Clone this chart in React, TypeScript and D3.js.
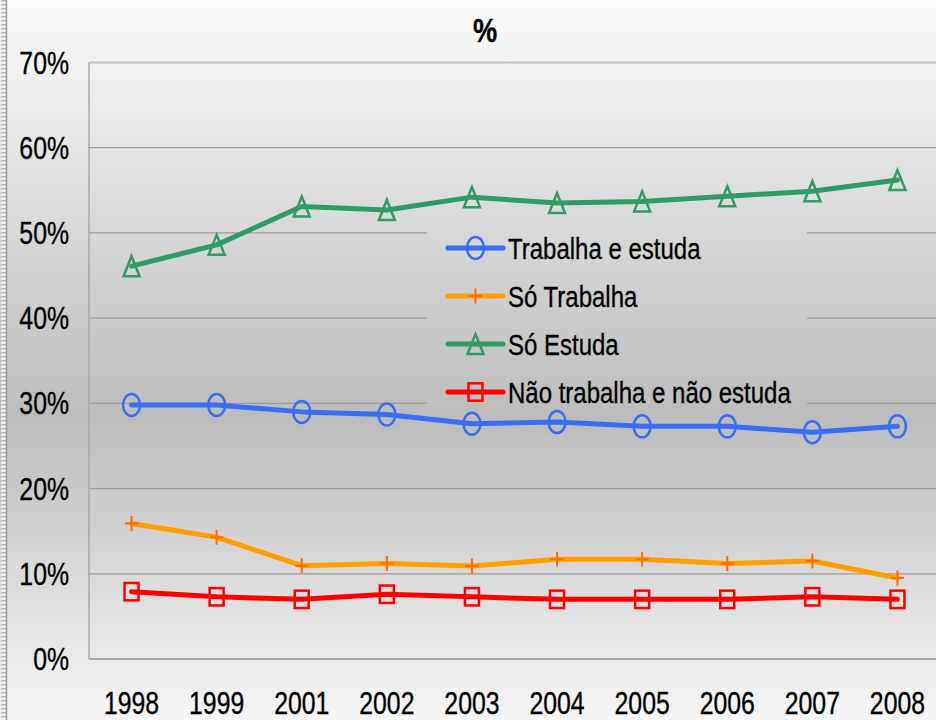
import React from "react";
import * as d3 from "d3";

const years = ["1998", "1999", "2001", "2002", "2003", "2004", "2005", "2006", "2007", "2008"];
const trabalhaEstuda = [29.8, 29.8, 29.0, 28.7, 27.6, 27.8, 27.3, 27.3, 26.6, 27.3];
const soTrabalha = [15.9, 14.3, 10.95, 11.2, 10.9, 11.7, 11.7, 11.2, 11.5, 9.5];
const soEstuda = [46.1, 48.6, 53.1, 52.7, 54.2, 53.5, 53.7, 54.3, 54.9, 56.2];
const naoTrabalha = [7.9, 7.3, 7.0, 7.6, 7.3, 7.0, 7.0, 7.0, 7.3, 7.0];
const yTicks = [0, 10, 20, 30, 40, 50, 60, 70];

const series = [
  { name: "Trabalha e estuda", values: trabalhaEstuda, color: "#3a6cf6", mark: "#3a6cf6", shape: "circle" },
  { name: "Só Trabalha", values: soTrabalha, color: "#ff9c00", mark: "#ff6a00", shape: "plus" },
  { name: "Só Estuda", values: soEstuda, color: "#2f9c63", mark: "#2f9c63", shape: "triangle" },
  { name: "Não trabalha e não estuda", values: naoTrabalha, color: "#ff0000", mark: "#ff0000", shape: "square" },
];

const W = 936;
const H = 720;
const M = { top: 62.5, left: 89, bottom: 659 };
const SX = 0.8; // text looks squeezed horizontally
const FONT = "'Liberation Sans', Arial, sans-serif";

const Marker = ({ shape, x, y, color }: { shape: string; x: number; y: number; color: string }) => {
  if (shape === "circle")
    return <ellipse cx={x} cy={y} rx={8.5} ry={11} fill="none" stroke={color} strokeWidth={2.5} />;
  if (shape === "square")
    return <rect x={x - 7} y={y - 8.7} width={14} height={17.4} fill="none" stroke={color} strokeWidth={2.5} />;
  if (shape === "triangle")
    return (
      <path
        d={`M${x},${y - 10}L${x + 8},${y + 10}L${x - 8},${y + 10}Z`}
        fill="none"
        stroke={color}
        strokeWidth={2.5}
        strokeLinejoin="miter"
      />
    );
  return (
    <path d={`M${x - 6.5},${y}H${x + 6.5}M${x},${y - 7.5}V${y + 7.5}`} stroke={color} strokeWidth={2} />
  );
};

const App = () => {
  const x = d3.scaleBand().domain(years).range([M.left, M.left + 10 * 85.1]);
  const y = d3.scaleLinear().domain([0, 70]).range([M.bottom, M.top]);
  const cx = (yr: string) => (x(yr) as number) + x.bandwidth() / 2;

  const line = d3
    .line<number>()
    .x((_, i) => cx(years[i]))
    .y((d) => y(d));

  const legendX = 448;
  const legendY = 248;
  const legendStep = 48;

  return (
    <svg
      width={W}
      height={H}
      style={{ position: "absolute", left: 0, top: 0 }}
      fontFamily={FONT}
    >
      <defs>
        <linearGradient id="bg" gradientUnits="userSpaceOnUse" x1="0" y1="0" x2="0" y2={H}>
          <stop offset="0" stopColor="#fbfbfb" />
          <stop offset="0.58" stopColor="#bcbcbc" />
          <stop offset="1" stopColor="#f6f6f6" />
        </linearGradient>
        <pattern id="hatch" width="6" height="4" patternUnits="userSpaceOnUse">
          <rect width="6" height="4" fill="#f4f4f4" />
          <rect y="0" width="6" height="1.5" fill="#b8b8b8" />
        </pattern>
      </defs>
      <rect width={W} height={H} fill="url(#bg)" />
      <rect x={1} y={0} width={5} height={H} fill="url(#hatch)" />
      <line x1={6.5} x2={6.5} y1={0} y2={H} stroke="#9a9a9a" strokeWidth={1.5} />

      {/* gridlines */}
      {yTicks.map((t) => (
        <line
          key={t}
          x1={M.left}
          x2={W}
          y1={y(t)}
          y2={y(t)}
          stroke={t === 70 ? "#c2c2c2" : t === 0 ? "#a8a8a8" : "#9c9c9c"}
          strokeWidth={t === 70 || t === 0 ? 2 : 1.2}
        />
      ))}
      <line x1={M.left} x2={M.left} y1={M.top} y2={M.bottom} stroke="#a8a8a8" strokeWidth={1.5} />

      <g fill="#000" stroke="#000" strokeWidth={0.35}>
        {/* y tick labels */}
        {yTicks.map((t) => (
          <text
            key={t}
            transform={`translate(69,${y(t) + 11}) scale(${SX},1)`}
            textAnchor="end"
            fontSize={31}
          >
            {t}%
          </text>
        ))}

        {/* x tick labels */}
        {years.map((yr) => (
          <text
            key={yr}
            transform={`translate(${cx(yr)},714) scale(${SX},1)`}
            textAnchor="middle"
            fontSize={31}
          >
            {yr}
          </text>
        ))}

        <text
          transform={`translate(485,42) scale(${SX},1)`}
          textAnchor="middle"
          fontSize={34}
          fontWeight="bold"
        >
          %
        </text>
      </g>

      {/* legend */}
      <rect x={427} y={222} width={380} height={190} fill="url(#bg)" />
      {series.map((s, i) => {
        const ly = legendY + i * legendStep;
        return (
          <g key={s.name}>
            <line x1={legendX} x2={legendX + 55} y1={ly} y2={ly} stroke={s.color} strokeWidth={5} strokeLinecap="round" />
            <Marker shape={s.shape} x={legendX + 27.5} y={ly} color={s.mark} />
            <text
              transform={`translate(508,${ly + 10.5}) scale(${SX},1)`}
              fontSize={30}
              fill="#000"
              stroke="#000"
              strokeWidth={0.35}
            >
              {s.name}
            </text>
          </g>
        );
      })}

      {/* series */}
      {series.map((s) => (
        <g key={s.name}>
          <path
            d={line(s.values) as string}
            fill="none"
            stroke={s.color}
            strokeWidth={5}
            strokeLinejoin="round"
            strokeLinecap="round"
          />
          {s.values.map((v, i) => (
            <Marker key={i} shape={s.shape} x={cx(years[i])} y={y(v)} color={s.mark} />
          ))}
        </g>
      ))}
    </svg>
  );
};

export default App;
